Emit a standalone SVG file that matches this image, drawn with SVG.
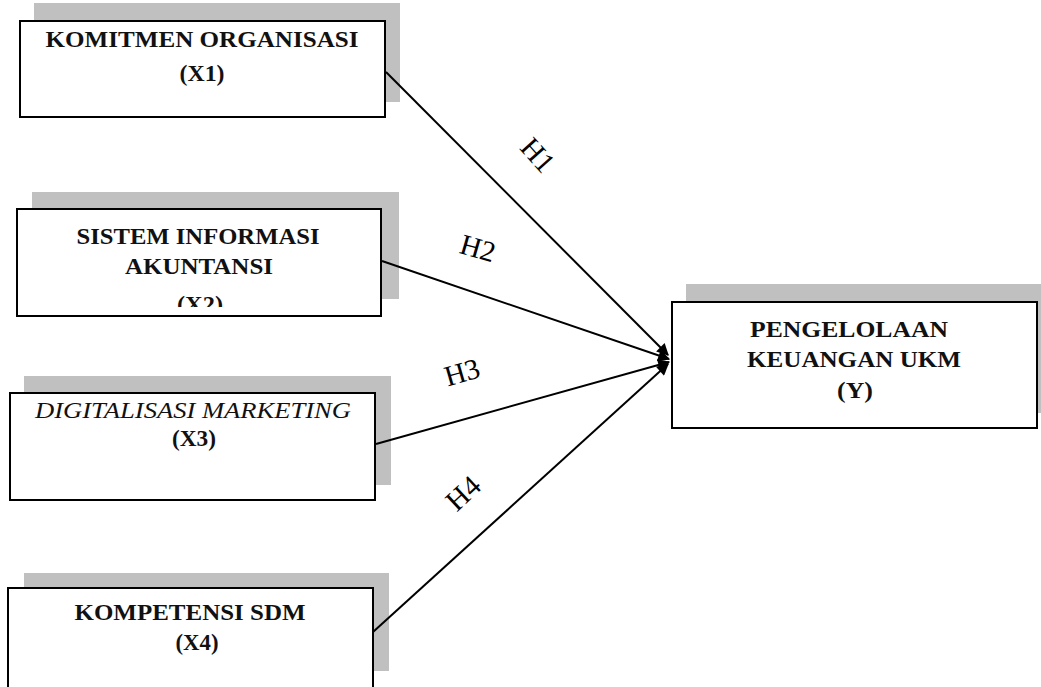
<svg xmlns="http://www.w3.org/2000/svg" width="1041" height="687" viewBox="0 0 1041 687">
<style>
.sh{fill:#c0c0c0}
.bx{fill:#fff;stroke:#000;stroke-width:2}
.t{font-family:"Liberation Serif","Times New Roman",serif;font-weight:bold;font-size:23px;fill:#111;text-anchor:middle}
.ti{font-family:"Liberation Serif","Times New Roman",serif;font-style:italic;font-size:23px;fill:#111;text-anchor:middle}
.h{font-family:"Liberation Serif","Times New Roman",serif;font-size:29px;fill:#000;text-anchor:middle}
.c{stroke:#000;stroke-width:2;fill:none;marker-end:url(#ah)}
</style>
<defs>
<marker id="ah" viewBox="0 0 10 10" refX="9" refY="5" markerWidth="8" markerHeight="6" markerUnits="strokeWidth" orient="auto">
<path d="M0,0 L10,5 L0,10 z" fill="#000"/>
</marker>
<clipPath id="cx2"><rect x="17" y="209" width="364" height="98"/></clipPath>
</defs>
<rect width="1041" height="687" fill="#fff"/>
<g id="x1">
<rect class="sh" x="34" y="3" width="366" height="99"/>
<rect class="bx" x="20" y="21" width="365" height="96"/>
<text class="t" x="202" y="47" textLength="313" lengthAdjust="spacingAndGlyphs">KOMITMEN ORGANISASI</text>
<text class="t" x="202" y="81" textLength="45" lengthAdjust="spacingAndGlyphs">(X1)</text>
</g>
<g id="x2">
<rect class="sh" x="32" y="192" width="367" height="107"/>
<rect class="bx" x="17" y="209" width="364" height="107"/>
<g clip-path="url(#cx2)">
<text class="t" x="198" y="244" textLength="243" lengthAdjust="spacingAndGlyphs">SISTEM INFORMASI</text>
<text class="t" x="199" y="274" textLength="148" lengthAdjust="spacingAndGlyphs">AKUNTANSI</text>
<text class="t" x="200" y="312" textLength="46" lengthAdjust="spacingAndGlyphs">(X2)</text>
</g>
</g>
<g id="x3">
<rect class="sh" x="24" y="376" width="367" height="109"/>
<rect class="bx" x="10" y="393" width="365" height="107"/>
<text class="ti" x="193" y="418" textLength="316" lengthAdjust="spacingAndGlyphs">DIGITALISASI MARKETING</text>
<text class="t" x="194" y="446" textLength="44" lengthAdjust="spacingAndGlyphs">(X3)</text>
</g>
<g id="x4">
<rect class="sh" x="24" y="573" width="365" height="98"/>
<rect class="bx" x="8" y="588" width="365" height="120"/>
<text class="t" x="190" y="620" textLength="231" lengthAdjust="spacingAndGlyphs">KOMPETENSI SDM</text>
<text class="t" x="197" y="650" textLength="43" lengthAdjust="spacingAndGlyphs">(X4)</text>
</g>
<g id="y">
<rect class="sh" x="686" y="284" width="370" height="129"/>
<rect class="bx" x="672" y="302" width="365" height="126"/>
<text class="t" x="849" y="337" textLength="198" lengthAdjust="spacingAndGlyphs">PENGELOLAAN</text>
<text class="t" x="854" y="367" textLength="214" lengthAdjust="spacingAndGlyphs">KEUANGAN UKM</text>
<text class="t" x="855" y="398" textLength="36" lengthAdjust="spacingAndGlyphs">(Y)</text>
</g>
<g id="connectors">
<line class="c" x1="386" y1="72" x2="668" y2="355"/>
<line class="c" x1="382" y1="261" x2="669" y2="359"/>
<line class="c" x1="376" y1="444" x2="669" y2="362"/>
<line class="c" x1="373" y1="632" x2="668" y2="364"/>
</g>
<g id="labels">
<text class="h" transform="translate(538,155) rotate(48)" y="10">H1</text>
<text class="h" transform="translate(478,248) rotate(16)" y="10">H2</text>
<text class="h" transform="translate(462,372) rotate(-16)" y="10">H3</text>
<text class="h" transform="translate(463,493) rotate(-43)" y="10">H4</text>
</g>
</svg>
